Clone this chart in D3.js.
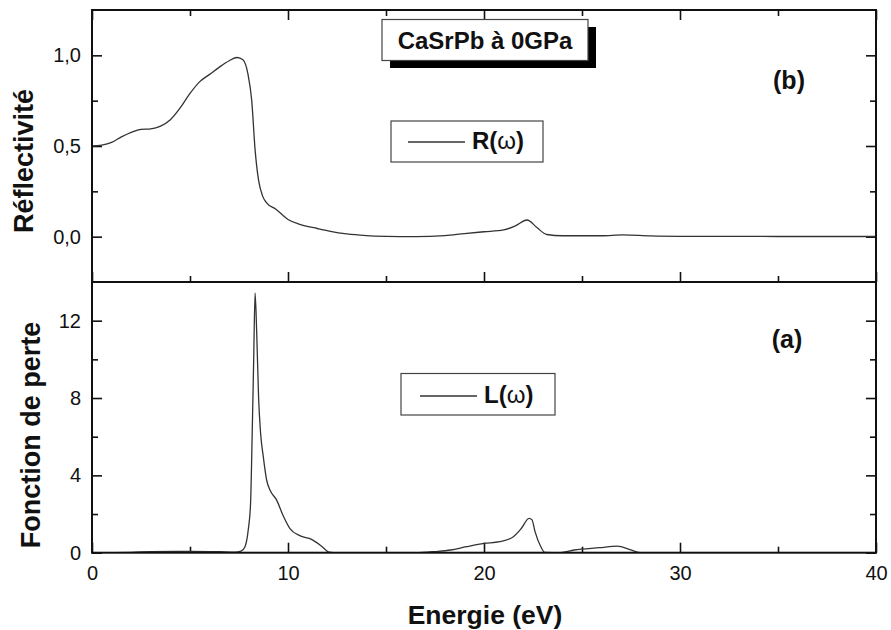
<!DOCTYPE html>
<html>
<head>
<meta charset="utf-8">
<script src="https://cdn.jsdelivr.net/npm/d3@7"></script>
<style>
  html, body { margin: 0; padding: 0; background: #fff; }
  svg { display: block; }
  text { font-family: "Liberation Sans", Arial, Helvetica, sans-serif; fill: #111; }
</style>
</head>
<body>
<svg id="chart" width="891" height="630"></svg>
<script>
// Réflectivité R(ω) versus photon energy (eV)
const energyR = [0, 0.5, 1.0, 1.5, 2.0, 2.5, 3.0, 3.5, 4.0, 4.5, 5.0, 5.5, 6.0, 6.5, 7.0, 7.4, 7.7, 7.95, 8.15, 8.32, 8.5, 8.7, 8.9, 9.4, 10.0, 10.6, 11.5, 12.1, 13.0, 14.0, 15.0, 16.5, 18.0, 19.0, 20.0, 21.0, 21.6, 22.2, 22.7, 23.2, 24.0, 26.0, 27.1, 28.5, 30.0, 35.0, 40.0];
const reflect = [0.50, 0.505, 0.52, 0.55, 0.575, 0.592, 0.595, 0.61, 0.645, 0.71, 0.79, 0.855, 0.895, 0.935, 0.97, 0.988, 0.975, 0.90, 0.75, 0.48, 0.31, 0.225, 0.188, 0.15, 0.095, 0.068, 0.045, 0.031, 0.015, 0.006, 0.002, 0.0, 0.006, 0.017, 0.027, 0.037, 0.06, 0.092, 0.05, 0.012, 0.005, 0.005, 0.01, 0.004, 0.002, 0.001, 0.001];

// Fonction de perte L(ω) versus photon energy (eV)
const energyL = [0, 2.0, 3.0, 5.0, 6.5, 7.3, 7.6, 7.8, 7.97, 8.09, 8.18, 8.25, 8.32, 8.4, 8.5, 8.6, 8.74, 8.91, 9.08, 9.42, 9.76, 10.1, 10.6, 11.2, 11.7, 12.1, 12.5, 16.5, 17.5, 18.3, 19.1, 20.0, 20.8, 21.5, 21.9, 22.3, 22.45, 22.6, 22.9, 23.1, 23.9, 24.6, 25.9, 26.8, 27.5, 28.0, 40.0];
const loss = [0, 0.02, 0.06, 0.07, 0.05, 0.03, 0.08, 0.3, 1.17, 2.55, 6.5, 10.0, 13.43, 11.5, 8.0, 6.2, 4.96, 3.76, 3.24, 2.72, 1.9, 1.25, 0.88, 0.69, 0.35, 0.03, 0, 0, 0.06, 0.14, 0.31, 0.48, 0.57, 0.83, 1.25, 1.78, 1.7, 1.1, 0.31, 0.02, 0, 0.14, 0.26, 0.34, 0.14, 0, 0];

// Tick values
const xMajor = [0, 10, 20, 30, 40];
const xMinor = [5, 15, 25, 35];
const rMajor = [0.0, 0.5, 1.0];
const rMinor = [0.25, 0.75];
const lMajor = [0, 4, 8, 12];
const lMinor = [2, 6, 10];

const svg = d3.select("#chart");
const left = 92, right = 876;
const topY = 10, midY = 282, botY = 552.7;
const majorLen = 10, minorLen = 6;

const x = d3.scaleLinear().domain([0, 40]).range([left, right]);
const yR = d3.scaleLinear().domain([-0.25, 1.25]).range([midY, topY]);
const yL = d3.scaleLinear().domain([0, 14]).range([botY, midY]);

const comma = d => d3.format(".1f")(d).replace(".", ",");

function styleAxis(g) {
  g.select(".domain").remove();
  g.selectAll(".tick line").attr("stroke", "#111").attr("stroke-width", 1.6);
  g.selectAll(".tick text").attr("font-size", 20).attr("fill", "#111")
    .attr("font-family", '"Liberation Sans", Arial, sans-serif');
}

function addAxis(axis, tx, ty) {
  svg.append("g").attr("transform", `translate(${tx},${ty})`).call(axis).call(styleAxis);
}

// Panel (b): reflectivity axes
addAxis(d3.axisLeft(yR).tickValues(rMajor).tickSizeInner(-majorLen).tickSizeOuter(0).tickPadding(11).tickFormat(comma), left, 0);
addAxis(d3.axisLeft(yR).tickValues(rMinor).tickSizeInner(-minorLen).tickSizeOuter(0).tickFormat(""), left, 0);
addAxis(d3.axisRight(yR).tickValues(rMajor).tickSizeInner(-majorLen).tickSizeOuter(0).tickFormat(""), right, 0);
addAxis(d3.axisRight(yR).tickValues(rMinor).tickSizeInner(-minorLen).tickSizeOuter(0).tickFormat(""), right, 0);
addAxis(d3.axisTop(x).tickValues(xMajor).tickSizeInner(-majorLen).tickSizeOuter(0).tickFormat(""), 0, topY);
addAxis(d3.axisTop(x).tickValues(xMinor).tickSizeInner(-minorLen).tickSizeOuter(0).tickFormat(""), 0, topY);
addAxis(d3.axisBottom(x).tickValues(xMajor).tickSizeInner(-majorLen).tickSizeOuter(0).tickFormat(""), 0, midY);
addAxis(d3.axisBottom(x).tickValues(xMinor).tickSizeInner(-minorLen).tickSizeOuter(0).tickFormat(""), 0, midY);

// Panel (a): loss function axes
addAxis(d3.axisLeft(yL).tickValues(lMajor).tickSizeInner(-majorLen).tickSizeOuter(0).tickPadding(11).tickFormat(d3.format("d")), left, 0);
addAxis(d3.axisLeft(yL).tickValues(lMinor).tickSizeInner(-minorLen).tickSizeOuter(0).tickFormat(""), left, 0);
addAxis(d3.axisRight(yL).tickValues(lMajor).tickSizeInner(-majorLen).tickSizeOuter(0).tickFormat(""), right, 0);
addAxis(d3.axisRight(yL).tickValues(lMinor).tickSizeInner(-minorLen).tickSizeOuter(0).tickFormat(""), right, 0);
addAxis(d3.axisBottom(x).tickValues(xMajor).tickSizeInner(-majorLen).tickSizeOuter(0).tickPadding(13).tickFormat(d3.format("d")), 0, botY);
addAxis(d3.axisBottom(x).tickValues(xMinor).tickSizeInner(-minorLen).tickSizeOuter(0).tickFormat(""), 0, botY);

// Curves
const clipR = svg.append("clipPath").attr("id", "clipR").append("rect")
  .attr("x", left).attr("y", topY).attr("width", right - left).attr("height", midY - topY);
const clipL = svg.append("clipPath").attr("id", "clipL").append("rect")
  .attr("x", left).attr("y", midY).attr("width", right - left).attr("height", botY - midY);

const lineR = d3.line().x((d, i) => x(energyR[i])).y(d => yR(d)).curve(d3.curveMonotoneX);
const lineL = d3.line().x((d, i) => x(energyL[i])).y(d => yL(d)).curve(d3.curveMonotoneX);

svg.append("path").attr("d", lineR(reflect)).attr("fill", "none")
  .attr("stroke", "#333").attr("stroke-width", 1.3).attr("clip-path", "url(#clipR)");
svg.append("path").attr("d", lineL(loss)).attr("fill", "none")
  .attr("stroke", "#333").attr("stroke-width", 1.3).attr("clip-path", "url(#clipL)");

// Frames
svg.append("rect").attr("x", left).attr("y", topY).attr("width", right - left).attr("height", midY - topY)
  .attr("fill", "none").attr("stroke", "#111").attr("stroke-width", 2);
svg.append("rect").attr("x", left).attr("y", midY).attr("width", right - left).attr("height", botY - midY)
  .attr("fill", "none").attr("stroke", "#111").attr("stroke-width", 2);

// Axis titles
svg.append("text").attr("transform", "translate(33,161) rotate(-90)")
  .attr("text-anchor", "middle").attr("font-size", 27).attr("font-weight", "bold").text("Réflectivité");
svg.append("text").attr("transform", "translate(40,435) rotate(-90)")
  .attr("text-anchor", "middle").attr("font-size", 27).attr("font-weight", "bold").text("Fonction de perte");
svg.append("text").attr("x", 485).attr("y", 624)
  .attr("text-anchor", "middle").attr("font-size", 26.5).attr("font-weight", "bold").text("Energie (eV)");

// Title box with drop shadow
svg.append("rect").attr("x", 390).attr("y", 27).attr("width", 206).attr("height", 41).attr("fill", "#000");
svg.append("rect").attr("x", 382).attr("y", 19.5).attr("width", 206).attr("height", 41)
  .attr("fill", "#fff").attr("stroke", "#444").attr("stroke-width", 1.2);
svg.append("text").attr("x", 485).attr("y", 48.5).attr("text-anchor", "middle")
  .attr("font-size", 24).attr("font-weight", "bold").text("CaSrPb à 0GPa");

// Legends
function legend(bx, by, bw, bh, lx1, lx2, ly, tx, ty, name) {
  svg.append("rect").attr("x", bx).attr("y", by).attr("width", bw).attr("height", bh)
    .attr("fill", "#fff").attr("stroke", "#444").attr("stroke-width", 1.2);
  svg.append("line").attr("x1", lx1).attr("x2", lx2).attr("y1", ly).attr("y2", ly)
    .attr("stroke", "#333").attr("stroke-width", 1.3);
  const t = svg.append("text").attr("x", tx).attr("y", ty).attr("font-size", 24).attr("font-weight", "bold");
  t.append("tspan").text(name + "(");
  t.append("tspan").attr("font-weight", "normal").text("ω");
  t.append("tspan").text(")");
}
legend(391, 121, 152, 41, 408, 465, 142, 472, 148.5, "R");
legend(401, 373.5, 154, 41.5, 420, 477, 396, 484, 403, "L");

// Panel tags
svg.append("text").attr("x", 789).attr("y", 89).attr("text-anchor", "middle")
  .attr("font-size", 25).attr("font-weight", "bold").text("(b)");
svg.append("text").attr("x", 787).attr("y", 348).attr("text-anchor", "middle")
  .attr("font-size", 25).attr("font-weight", "bold").text("(a)");
</script>
</body>
</html>
